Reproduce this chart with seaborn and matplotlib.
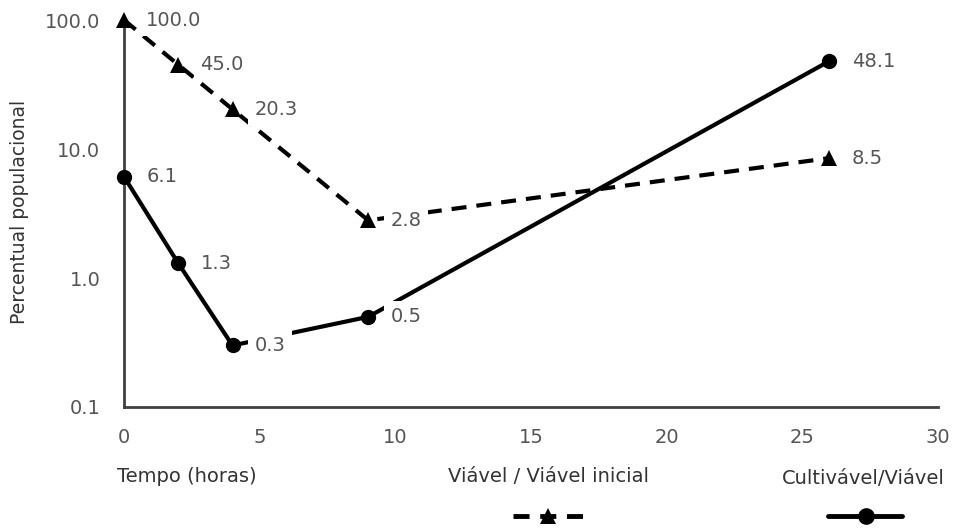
import matplotlib
matplotlib.use("Agg")
import matplotlib.pyplot as plt
import seaborn as sns
import pandas as pd
from matplotlib.lines import Line2D

tempo = [0, 2, 4, 9, 26]
viavel = [100.0, 45.0, 20.3, 2.8, 8.5]
cultivavel = [6.1, 1.3, 0.3, 0.5, 48.1]
xticks = [0, 5, 10, 15, 20, 25, 30]
yticks = [0.1, 1, 10, 100]
ytick_labels = ["0.1", "1.0", "10.0", "100.0"]
serie_viavel = "Viável / Viável inicial"
serie_cult = "Cultivável/Viável"

df = pd.DataFrame({"Tempo": tempo, "Viavel": viavel, "Cultivavel": cultivavel})

sns.set_style("white")
plt.rcParams["font.family"] = ["DejaVu Sans"]

fig = plt.figure(figsize=(9.58, 5.31), dpi=100)
ax = fig.add_axes([124 / 958, 1 - 407 / 531, (938 - 124) / 958, (407 - 20) / 531])

txt_color = "#555555"
fs = 14

sns.lineplot(data=df, x="Tempo", y="Viavel", ax=ax, color="black", lw=3,
             linestyle=(0, (3.6, 2.4)), marker="^", markersize=11, markeredgewidth=0,
             clip_on=False, zorder=3)
sns.lineplot(data=df, x="Tempo", y="Cultivavel", ax=ax, color="black", lw=3,
             marker="o", markersize=11, markeredgewidth=0, clip_on=False, zorder=3)

ax.set_yscale("log")
ax.set_ylim(0.1, 100)
ax.set_xlim(0, 30)
ax.set_xticks(xticks)
ax.set_xticklabels([str(t) for t in xticks])
ax.set_yticks(yticks)
ax.set_yticklabels(ytick_labels)
ax.minorticks_off()
ax.tick_params(axis="x", length=0, pad=15, labelsize=fs, labelcolor=txt_color)
ax.tick_params(axis="y", length=0, pad=17, labelsize=fs, labelcolor=txt_color)
ax.set_xlabel("")
ax.set_ylabel("")

for s in ["top", "right"]:
    ax.spines[s].set_visible(False)
for s in ["left", "bottom"]:
    ax.spines[s].set_color("#404040")
    ax.spines[s].set_linewidth(2)
    ax.spines[s].set_zorder(2)

for xs, ys in [(tempo, viavel), (tempo, cultivavel)]:
    for xv, yv in zip(xs, ys):
        ax.annotate(f"{yv:.1f}", (xv, yv), xytext=(16, 0), textcoords="offset points",
                    ha="left", va="center", fontsize=fs, color=txt_color,
                    bbox=dict(boxstyle="square,pad=0.35", fc="white", ec="none"),
                    zorder=4, annotation_clip=False)

fig.text(20 / 958, 1 - 212 / 531, "Percentual populacional", rotation=90,
         ha="center", va="center", fontsize=13.5, color="#333333")
fig.text(117 / 958, 1 - 476 / 531, "Tempo (horas)", ha="left", va="center",
         fontsize=fs, color="#333333")
fig.text(549 / 958, 1 - 477 / 531, serie_viavel, ha="center", va="center",
         fontsize=fs, color="#333333")
fig.text(863 / 958, 1 - 479 / 531, serie_cult, ha="center", va="center",
         fontsize=fs, color="#333333")

ly = 1 - 516 / 531
fig.add_artist(Line2D([513 / 958, 585 / 958], [ly, ly], color="black", lw=3.5,
                      linestyle=(0, (3.3, 2.2)), transform=fig.transFigure))
fig.add_artist(Line2D([548 / 958], [ly], color="black", marker="^", markersize=11,
                      markeredgewidth=0, transform=fig.transFigure))
fig.add_artist(Line2D([828 / 958, 902 / 958], [ly, ly], color="black", lw=3.5,
                      transform=fig.transFigure))
fig.add_artist(Line2D([866 / 958], [ly], color="black", marker="o", markersize=12,
                      markeredgewidth=0, transform=fig.transFigure))

fig.savefig("out.png", dpi=100)
